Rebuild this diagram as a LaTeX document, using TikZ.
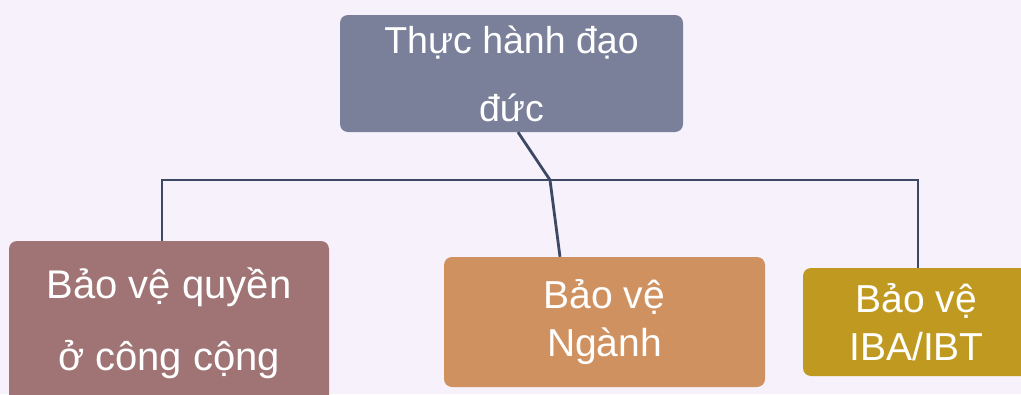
\documentclass[tikz,border=0pt]{standalone}
\usepackage{fontspec}
\setmainfont{Liberation Sans}
\definecolor{bgc}{RGB}{247,241,252}
\definecolor{topc}{RGB}{122,128,153}
\definecolor{leftc}{RGB}{160,116,116}
\definecolor{midc}{RGB}{208,145,96}
\definecolor{rightc}{RGB}{192,154,32}
\definecolor{linec}{RGB}{60,72,100}
\tikzset{
  box/.style={rectangle, rounded corners=8pt, inner sep=0pt, text=white, align=center},
  conn/.style={draw=linec, line width=2.8pt, line join=miter}
}
\begin{document}
\begin{tikzpicture}[x=1pt,y=-1pt]
\clip (0,0) rectangle (1021,394);
\fill[bgc] (0,0) rectangle (1021,394);
\node[box, fill=topc, minimum width=343pt, minimum height=117pt,
      font=\fontsize{37.5}{68}\selectfont] (top) at (511.5,73.5) {Thực hành đạo\\đức};
\node[box, fill=leftc, minimum width=320pt, minimum height=164pt,
      font=\fontsize{40}{72}\selectfont] (left) at (169,323) {Bảo vệ quyền\\ở công cộng};
\node[box, fill=midc, minimum width=321pt, minimum height=130pt,
      font=\fontsize{39}{48}\selectfont] (mid) at (604.5,322) {Bảo vệ\\Ngành};
\node[box, fill=rightc, minimum width=227pt, minimum height=108pt,
      font=\fontsize{39}{48}\selectfont] (right) at (916.5,322) {Bảo vệ\\IBA/IBT};
\coordinate (j) at (550,180);
\coordinate (jl) at (162,180);
\coordinate (jr) at (918,180);
\draw[conn] ([xshift=6.5pt]top.south) -- (j) -- ([xshift=-44.5pt]mid.north);
\draw[conn] (jl |- left.north) -- (jl) -- (jr) -- (jr |- right.north);
\end{tikzpicture}
\end{document}
